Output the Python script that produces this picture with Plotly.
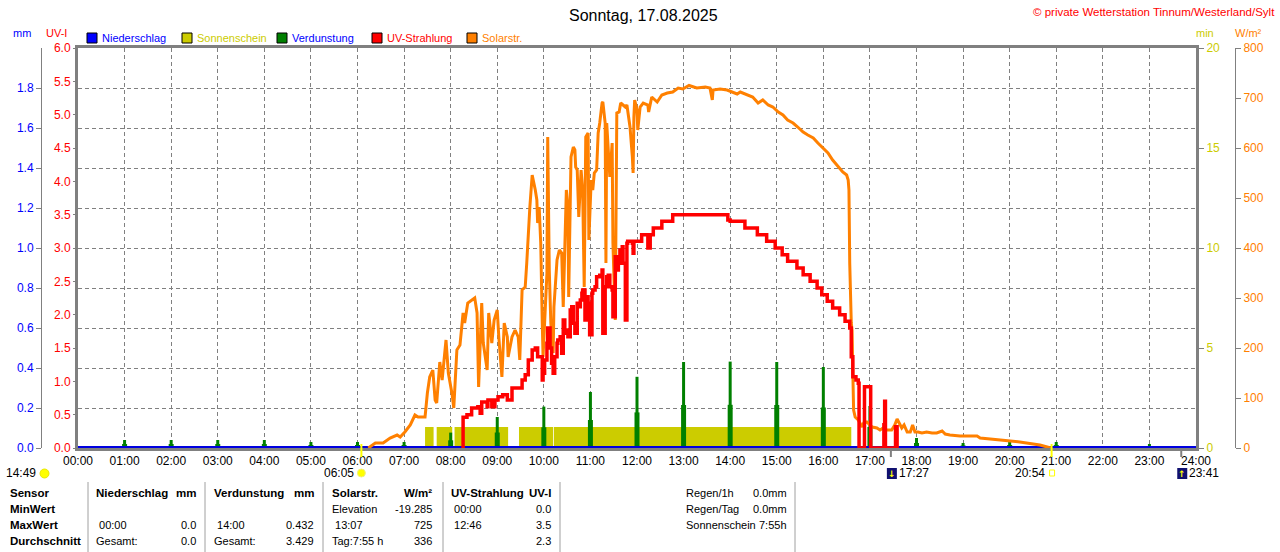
import plotly.graph_objects as go

OFF = 0
W, H = 1280 - OFF, 552 - OFF
def px(x): return (x - OFF) / W
def py(y): return 1 - (y - OFF) / H
def hm(s):
    h, m = s.split(":")
    return int(h) + int(m) / 60

FONT = "Liberation Sans, Arial, sans-serif"
GRID = "#808080"
RED = "#FF0000"; ORANGE = "#FF8000"; YEL = "#CCCC00"; GREEN = "#008000"; BLUE = "#0000FF"
NAVY = "#101070"

# ---------------- data ----------------
title_text = "Sonntag, 17.08.2025"
copyright_text = "© private Wetterstation Tinnum/Westerland/Sylt"

hour_ticks = [0, 1, 2, 3, 4, 5, 6, 7, 8, 9, 10, 11, 12, 13, 14, 15, 16, 17, 18, 19, 20, 21, 22, 23, 24]
hour_labels = ["00:00", "01:00", "02:00", "03:00", "04:00", "05:00", "06:00", "07:00", "08:00",
               "09:00", "10:00", "11:00", "12:00", "13:00", "14:00", "15:00", "16:00", "17:00",
               "18:00", "19:00", "20:00", "21:00", "22:00", "23:00", "24:00"]
uv_ticks = [0.0, 0.5, 1.0, 1.5, 2.0, 2.5, 3.0, 3.5, 4.0, 4.5, 5.0, 5.5, 6.0]
mm_ticks = [0.0, 0.2, 0.4, 0.6, 0.8, 1.0, 1.2, 1.4, 1.6, 1.8]
min_ticks = [0, 5, 10, 15, 20]
wm2_ticks = [0, 100, 200, 300, 400, 500, 600, 700, 800]

solar_time = ["06:14","06:23","06:33","06:42","06:51","06:55","07:01","07:08","07:14","07:18","07:27","07:30",
 "07:33","07:37","07:40","07:42","07:46","07:49","07:54","07:57","08:02","08:04","08:08","08:12","08:16","08:18",
 "08:22","08:27","08:31","08:34","08:36","08:40","08:42","08:47","08:49","08:53","08:56","09:00","09:02","09:06",
 "09:09","09:13","09:14","09:19","09:23","09:27","09:29","09:32","09:36","09:38","09:40","09:42","09:45","09:46",
 "09:49","09:51","09:52","09:54","09:56","09:58","09:59","10:01","10:04","10:05","10:07","10:09","10:12","10:13",
 "10:17","10:20","10:23","10:25","10:26","10:29","10:31","10:32","10:35","10:38","10:40","10:41","10:43","10:45",
 "10:48","10:50","10:52","10:54","10:57","10:58","11:01","11:03","11:05","11:08","11:10","11:12","11:15","11:16",
 "11:19","11:20","11:21","11:24","11:25","11:28","11:29","11:32","11:33","11:34","11:37","11:39","11:42","11:45",
 "11:47","11:51","11:54","11:55","11:56","11:57","12:00","12:01","12:04","12:08","12:14","12:15","12:19","12:26",
 "12:32","12:39","12:46","12:53","12:59","13:07","13:17","13:28","13:34","13:37","13:38","13:47","13:56","14:04",
 "14:09","14:13","14:22","14:29","14:36","14:42","14:49","14:55","15:02","15:08","15:14","15:21","15:27","15:34",
 "15:40","15:47","15:53","16:00","16:06","16:12","16:19","16:25","16:30","16:32","16:33","16:34","16:36","16:37",
 "16:38","16:39","16:41","16:45","16:50","16:52","16:56","17:03","17:09","17:13","17:17","17:22","17:28","17:32",
 "17:35","17:37","17:41","17:44","17:48","17:52","17:55","17:58","18:02","18:07","18:13","18:20","18:26","18:33",
 "18:37","18:43","18:56","19:18","19:22","19:48","20:13","20:39","20:53"]
solar_wm2 = [0,10,10,20,26,22,32,46,66,62,62,110,
 142,156,96,90,172,136,216,150,106,80,196,206,270,250,
 290,296,300,270,122,290,210,156,270,210,256,276,222,142,
 250,222,182,222,236,222,176,316,322,370,430,482,546,540,
 516,496,450,482,410,250,182,250,350,622,356,250,190,282,
 376,396,390,282,342,516,482,302,582,602,596,562,556,462,
 556,516,322,622,630,416,536,516,550,556,630,650,690,692,
 650,370,650,582,542,610,410,256,516,670,672,690,686,682,
 686,642,582,550,662,696,676,636,682,690,686,672,702,692,
 706,710,712,720,718,725,720,722,720,696,716,718,716,712,
 708,712,706,702,690,696,686,682,672,666,656,650,642,632,
 626,620,610,600,590,576,562,552,546,536,516,370,250,236,
 150,76,62,56,42,50,52,42,40,36,40,36,36,46,
 58,52,40,46,32,32,46,32,32,30,32,30,30,34,
 28,26,24,24,20,16,12,6,0]

uv_time = ["08:15","08:16","08:21","08:27","08:35","08:38","08:40","08:47","08:48","08:53","08:57","09:01",
 "09:07","09:13","09:19","09:29","09:32","09:36","09:40","09:45","09:49","09:52","09:56","09:58","09:59","10:01",
 "10:04","10:05","10:08","10:10","10:12","10:14","10:17","10:18","10:21","10:23","10:25","10:27","10:30","10:31",
 "10:34","10:36","10:38","10:40","10:43","10:44","10:47","10:49","10:50","10:53","10:56","10:57","10:59","11:02",
 "11:03","11:06","11:08","11:12","11:15","11:16","11:19","11:21","11:23","11:25","11:28","11:29","11:32","11:34",
 "11:36","11:38","11:41","11:42","11:45","11:47","11:48","11:54","11:55","11:56","12:01","12:06","12:13","12:14",
 "12:17","12:21","12:30","12:32","12:45","12:46","13:56","13:57","14:00","14:17","14:19","14:32","14:35","14:45",
 "14:47","14:55","14:58","15:04","15:07","15:13","15:14","15:24","15:26","15:33","15:34","15:40","15:43","15:49",
 "15:52","15:56","15:58","16:02","16:05","16:11","16:12","16:19","16:21","16:25","16:28","16:32","16:34","16:36",
 "16:38","16:42","16:45","16:46","16:52","16:53","17:00","17:01","17:17","17:18","17:19","17:20","17:32","17:33",
 "17:35"]
uv_index = [0,0.46,0.5,0.6,0.62,0.52,0.69,0.62,0.72,0.62,0.72,0.77,
 0.8,0.72,0.9,0.9,1.02,1.1,1.32,1.47,1.5,1.37,1.37,1.02,1.12,1.32,
 1.57,1.8,1.5,1.27,1.12,1.37,1.57,1.62,1.67,1.42,1.92,1.72,1.77,1.67,
 2.07,2.12,1.87,1.72,2.17,2.12,2.22,2.32,2.37,1.92,2.27,2.17,1.7,2.32,
 2.37,2.42,2.57,2.59,2.67,1.72,2.42,2.57,2.59,2.42,2.37,1.97,2.87,2.67,
 2.77,2.97,3.02,2.77,1.92,3.07,3.1,3.07,2.92,3.1,3.1,3.2,3.2,3.0,
 3.2,3.3,3.3,3.4,3.4,3.5,3.5,3.42,3.4,3.4,3.3,3.3,3.2,3.2,
 3.1,3.1,3.0,3.0,2.9,2.9,2.8,2.8,2.7,2.7,2.6,2.6,2.5,2.5,
 2.4,2.4,2.3,2.3,2.2,2.2,2.1,2.1,2.0,2.0,1.9,1.9,1.8,1.37,
 1.07,1.02,0.97,0,0,0.92,0.92,0,0,0.35,0.7,0,0,0.32,
 0]

evap_hour = [1, 2, 3, 4, 5, 6, 7, 8, 9, 10, 11, 12, 13, 14, 15, 16, 17, 18, 19, 20, 21, 23]
evap_mm = [0.04, 0.04, 0.04, 0.04, 0.03, 0.03, 0.03, 0.077, 0.155, 0.207, 0.28, 0.356,
           0.43, 0.432, 0.43, 0.405, 0.21, 0.05, 0.025, 0.03, 0.03, 0.02]

sun_start = ["07:27", "07:42", "08:05", "09:28", "10:13"]
sun_end = ["07:38", "08:02", "09:14", "10:12", "16:36"]
sun_level = 1.05

rain_start, rain_end, rain_mm = "00:00", "24:00", 0.0

sunrise, sunset = "06:05", "20:54"
moonset, moonrise = "17:27", "23:41"
moon_other = "14:49"

legend_labels = ["Niederschlag", "Sonnenschein", "Verdunstung", "UV-Strahlung", "Solarstr."]
legend_box_colors = [BLUE, YEL, GREEN, RED, ORANGE]
legend_text_colors = [BLUE, YEL, BLUE, RED, ORANGE]
legend_x = [87, 182, 277, 372, 467]

row_heads = ["Sensor", "MinWert", "MaxWert", "Durchschnitt"]
row_y = [493, 509, 525, 541]
col_nied_left = ["<b>Niederschlag</b>", "", " 00:00", "Gesamt:"]
col_nied_right = ["<b>mm</b>", "", "0.0", "0.0"]
col_verd_left = ["<b>Verdunstung</b>", "", " 14:00", "Gesamt:"]
col_verd_right = ["<b>mm</b>", "", "0.432", "3.429"]
col_sol_left = ["<b>Solarstr.</b>", "Elevation", " 13:07", "Tag:7:55 h"]
col_sol_right = ["<b>W/m²</b>", "-19.285", "725", "336"]
col_uv_left = ["<b>UV-Strahlung</b>", " 00:00", " 12:46", ""]
col_uv_right = ["<b>UV-I</b>", "0.0", "3.5", "2.3"]
extra_left = ["Regen/1h", "Regen/Tag", "Sonnenschein"]
extra_right = ["0.0mm", "0.0mm", "7:55h"]

# ---------------- figure ----------------
fig = go.Figure()

sx, sy = [], []
for s, e in zip(sun_start, sun_end):
    sx += [hm(s), hm(s), hm(e), hm(e), None]
    sy += [0, sun_level, sun_level, 0, None]
fig.add_trace(go.Scatter(x=sx, y=sy, yaxis="y", mode="lines", fill="toself", fillcolor=YEL,
                         line=dict(width=0, color=YEL), hoverinfo="skip"))

ex, ey, ex2, ey2 = [], [], [], []
for h, v in zip(evap_hour, evap_mm):
    ex += [h, h, None]; ey += [0, v, None]
    ex2 += [h, h, None]; ey2 += [0, v / 2, None]
fig.add_trace(go.Scatter(x=ex2, y=ey2, yaxis="y2", mode="lines", line=dict(color=GREEN, width=5), hoverinfo="skip"))
fig.add_trace(go.Scatter(x=ex, y=ey, yaxis="y2", mode="lines", line=dict(color=GREEN, width=3), hoverinfo="skip"))

fig.add_trace(go.Scatter(x=[hm(t) for t in solar_time], y=solar_wm2, yaxis="y3", mode="lines",
                         line=dict(color=ORANGE, width=3)))
fig.add_trace(go.Scatter(x=[hm(t) for t in uv_time], y=uv_index, yaxis="y4", mode="lines",
                         line=dict(color=RED, width=3.5, shape="hv")))
fig.add_trace(go.Scatter(x=[hm(rain_start), hm(rain_end)], y=[rain_mm, rain_mm], yaxis="y2", mode="lines",
                         line=dict(color="#0000E0", width=4)))

dom_x = [px(78), px(1196)]
dom_y = [py(448), py(48)]
tf = dict(family=FONT, size=12)

fig.update_layout(
    width=W, height=H, autosize=False, margin=dict(l=0, r=0, t=0, b=0, pad=0, autoexpand=False),
    paper_bgcolor="white", plot_bgcolor="white", showlegend=False,
    xaxis=dict(domain=dom_x, range=[0, 24], tickvals=hour_ticks, ticktext=hour_labels, automargin=False,
               showgrid=True, gridcolor=GRID, gridwidth=1, griddash="4px,3px",
               showline=True, linecolor=GRID, linewidth=3, mirror=True, ticks="",
               tickfont=dict(tf, color="black"), zeroline=False, fixedrange=True),
    yaxis=dict(domain=dom_y, range=[0, 20], side="right", tickvals=min_ticks, automargin=False,
               tickfont=dict(tf, color=YEL), ticks="outside", ticklen=5, tickcolor=GRID,
               showline=True, mirror=True, linecolor=GRID, linewidth=3, showgrid=False, zeroline=False),
    yaxis2=dict(overlaying="y", anchor="free", position=px(41), side="left", range=[0, 2], automargin=False,
                tickvals=mm_ticks, tickformat=".1f", tickfont=dict(tf, color=BLUE),
                ticks="outside", ticklen=5, tickcolor=GRID, showline=True, linecolor=GRID, linewidth=1,
                showgrid=True, gridcolor=GRID, gridwidth=1, griddash="4px,3px", zeroline=False),
    yaxis3=dict(overlaying="y", anchor="free", position=px(1235), side="right", range=[0, 800], automargin=False,
                tickvals=wm2_ticks, tickfont=dict(tf, color=ORANGE), ticks="outside", ticklen=5,
                tickcolor=GRID, showline=True, linecolor=GRID, linewidth=1, showgrid=False, zeroline=False),
    yaxis4=dict(overlaying="y", anchor="x", side="left", range=[0, 6], tickvals=uv_ticks, tickformat=".1f",
                tickfont=dict(tf, color=RED), ticks="outside", ticklen=4, tickcolor=GRID, automargin=False,
                showline=False, showgrid=False, zeroline=False),
)

ann = []
shapes = []
def text(x, y, s, color="black", size=11, anchor="left", xref="paper", xshift=0):
    ann.append(dict(x=x if xref != "paper" else px(x), y=py(y), xref=xref, yref="paper", text=s,
                    showarrow=False, xanchor=anchor, yanchor="middle", xshift=xshift,
                    font=dict(family=FONT, size=size, color=color)))

text(643, 15, title_text, size=16, anchor="center")
text(1277, 12, copyright_text, color=RED, size=11.5, anchor="right")
text(22, 33, "mm", color=BLUE, size=11, anchor="center")
text(56, 33, "UV-I", color=RED, size=11, anchor="center")
text(1205, 33, "min", color=YEL, size=11, anchor="center")
text(1248, 33, "W/m²", color=ORANGE, size=11, anchor="center")

for lx, lab, bc, tc in zip(legend_x, legend_labels, legend_box_colors, legend_text_colors):
    shapes.append(dict(type="rect", xref="paper", yref="paper", x0=px(lx), x1=px(lx + 10),
                       y0=py(43), y1=py(33), fillcolor=bc, line=dict(color="black", width=1)))
    text(lx + 13, 38, lab, color=tc, size=11)

# sun / moon markers under the time axis
for t, col, top, bot in [(sunrise, "#FFFF00", 444, 457), (sunset, "#FFFF00", 444, 457),
                         (moonset, GRID, 449, 457), (moonrise, GRID, 449, 457)]:
    shapes.append(dict(type="line", xref="x", yref="paper", x0=hm(t), x1=hm(t), y0=py(bot), y1=py(top),
                       line=dict(color=col, width=2)))

text(38, 473, moon_other, anchor="right", size=12)
shapes.append(dict(type="circle", xref="paper", yref="paper", x0=px(40), x1=px(49), y0=py(478), y1=py(469),
                   fillcolor="#FFFF00", line=dict(color="#E8E800", width=1)))

text(hm(sunrise), 473, sunrise, anchor="right", xref="x", xshift=-5, size=12)
shapes.append(dict(type="circle", xref="x", yref="paper", xsizemode="pixel", xanchor=hm(sunrise),
                   x0=-4, x1=4, y0=py(477), y1=py(469), fillcolor="#FFFF00", line=dict(color="#F0F080", width=1)))

text(hm(sunset), 473, sunset, anchor="right", xref="x", xshift=-5, size=12)
shapes.append(dict(type="rect", xref="x", yref="paper", xsizemode="pixel", xanchor=hm(sunset),
                   x0=-2, x1=3, y0=py(476), y1=py(470), fillcolor="white", line=dict(color="#FFFF00", width=1)))

for t, arrow in [(moonset, "↓"), (moonrise, "↑")]:
    shapes.append(dict(type="rect", xref="x", yref="paper", xsizemode="pixel", xanchor=hm(t),
                       x0=-4, x1=6, y0=py(479), y1=py(468), fillcolor=NAVY, line=dict(width=0)))
    ann.append(dict(x=hm(t), y=py(473.5), xref="x", yref="paper", text="<b>" + arrow + "</b>", showarrow=False,
                    xanchor="center", yanchor="middle", xshift=1,
                    font=dict(family="DejaVu Sans", size=9, color="#FFFF00")))
    text(hm(t), 473, t, anchor="left", xref="x", xshift=6, size=12)

# table
def cell(x, y, s, anchor="left"):
    bold = s.startswith("<b>")
    text(x, y, s, anchor=anchor, size=11.5 if bold else 11)

for xs in [88, 205, 323, 443, 560, 795]:
    shapes.append(dict(type="line", xref="paper", yref="paper", x0=px(xs), x1=px(xs), y0=py(552), y1=py(482),
                       line=dict(color="#A0A0A0", width=1)))
for y, s in zip(row_y, row_heads):
    cell(8, y, "<b>" + s + "</b>")
for lefts, rights, lx, rx in [(col_nied_left, col_nied_right, 94, 198),
                              (col_verd_left, col_verd_right, 212, 316),
                              (col_sol_left, col_sol_right, 330, 434),
                              (col_uv_left, col_uv_right, 449, 553)]:
    for y, l, r in zip(row_y, lefts, rights):
        if l:
            cell(lx, y, l)
        if r:
            cell(rx, y, r, anchor="right")
for y, l, r in zip(row_y, extra_left, extra_right):
    cell(684, y, l)
    cell(789, y, r, anchor="right")

fig.update_layout(annotations=ann, shapes=shapes)
fig.write_html("out.html", config={"displayModeBar": False},
               post_script="document.body.style.margin='0px';"
                           "document.body.style.overflow='hidden';"
                           "document.documentElement.style.overflow='hidden';")
